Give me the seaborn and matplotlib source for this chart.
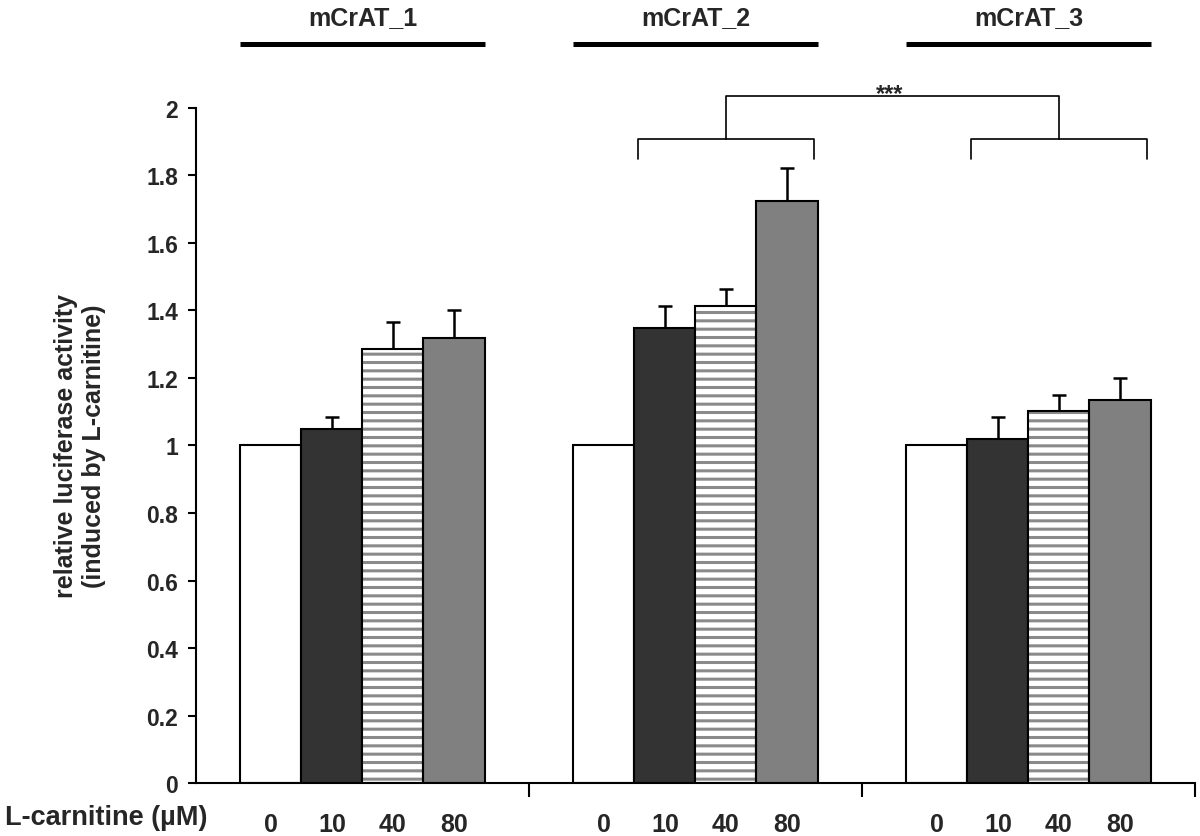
import matplotlib
matplotlib.use("Agg")
import matplotlib.pyplot as plt
from matplotlib.patches import Rectangle
import seaborn as sns
import pandas as pd

# values
constructs = ["mCrAT_1", "mCrAT_2", "mCrAT_3"]
concentrations = ["0", "10", "40", "80"]
mcrat1 = [1.00, 1.05, 1.285, 1.318]
mcrat2 = [1.00, 1.348, 1.413, 1.725]
mcrat3 = [1.00, 1.019, 1.102, 1.136]
err1 = [0.0, 0.035, 0.082, 0.083]
err2 = [0.0, 0.064, 0.052, 0.098]
err3 = [0.0, 0.065, 0.048, 0.064]
yticks = [0, 0.2, 0.4, 0.6, 0.8, 1.0, 1.2, 1.4, 1.6, 1.8, 2.0]
ytick_labels = ["0", "0.2", "0.4", "0.6", "0.8", "1", "1.2", "1.4", "1.6", "1.8", "2"]

rows = []
for name, vals, errs in zip(constructs, [mcrat1, mcrat2, mcrat3], [err1, err2, err3]):
    for c, v, e in zip(concentrations, vals, errs):
        rows.append({"construct": name, "conc": c, "activity": v, "sem": e})
df = pd.DataFrame(rows)

sns.set_style("white")
plt.rcParams["font.family"] = ["Liberation Sans", "DejaVu Sans"]
plt.rcParams["font.weight"] = "bold"
plt.rcParams["hatch.linewidth"] = 2.2

fig = plt.figure(figsize=(12, 8.37), dpi=100)
ax = fig.add_axes([0.1633, 0.0633, 0.8325, 0.8065])

palette = {"0": "white", "10": "#333333", "40": "white", "80": "#808080"}
sns.barplot(data=df, x="construct", y="activity", hue="conc", hue_order=concentrations,
            palette=palette, width=0.733, errorbar=None, legend=False,
            edgecolor="black", linewidth=1.5, saturation=1, ax=ax)
bars = list(ax.containers)  # one container per concentration

# striped bars: gray hatch, black outline drawn on top
for bar in bars[2]:
    bar.set_hatch("--")
    bar.set_edgecolor("#8a8a8a")
    bar.set_linewidth(0)
    ax.add_patch(Rectangle(bar.get_xy(), bar.get_width(), bar.get_height(),
                           fill=False, edgecolor="black", linewidth=1.5, zorder=bar.get_zorder() + 0.1))

# upward-only error bars
for k, cont in enumerate(bars):
    for j, bar in enumerate(cont):
        e = df[(df.construct == constructs[j]) & (df.conc == concentrations[k])]["sem"].iloc[0]
        if e > 0:
            xc = bar.get_x() + bar.get_width() / 2
            ax.errorbar(xc, bar.get_height(), yerr=[[0], [e]], fmt="none", ecolor="black",
                        elinewidth=1.8, capsize=5, capthick=1.8, zorder=0.5)

ax.set_xlim(-0.5, 2.5)
ax.set_ylim(0, 2)
ax.set_yticks(yticks)
ax.set_yticklabels(ytick_labels, fontsize=16.5, fontweight="bold")

# bar concentration labels as major ticks, group boundaries as minor ticks
centers, labels = [], []
for j in range(len(constructs)):
    for k in range(len(concentrations)):
        bar = bars[k][j]
        centers.append(bar.get_x() + bar.get_width() / 2)
        labels.append(concentrations[k])
ax.set_xticks(centers)
ax.set_xticklabels(labels, fontsize=18, fontweight="bold")
ax.set_xticks([0.5, 1.5, 2.5], minor=True)
ax.tick_params(axis="x", which="major", bottom=True, length=0, pad=21)
ax.tick_params(axis="x", which="minor", bottom=True, length=10, width=1.5, direction="out", color="black")
ax.tick_params(axis="y", left=True, length=6, width=1.5, direction="out", color="black", pad=7)
ax.set_xlabel("")

sns.despine(ax=ax)
for s in ["left", "bottom"]:
    ax.spines[s].set_color("black")
    ax.spines[s].set_linewidth(1.5)

ax.set_ylabel("relative luciferase activity\n(induced by L-carnitine)", fontsize=18, fontweight="bold")
ax.yaxis.set_label_coords(-0.09, 0.5)

ax.text(0.012, -0.05, "L-carnitine (\u00b5M)", transform=ax.transAxes, ha="right", va="center",
        fontsize=19.5, fontweight="bold", clip_on=False)

# construct labels with thick lines above each group
for j, name in enumerate(constructs):
    x0 = bars[0][j].get_x()
    x1 = bars[3][j].get_x() + bars[3][j].get_width()
    ax.plot([x0, x1], [2.19, 2.19], color="black", linewidth=3.6, solid_capstyle="butt", clip_on=False)
    ax.text((x0 + x1) / 2, 2.27, name, ha="center", va="center", fontsize=18,
            fontweight="bold", clip_on=False)

# significance brackets between mCrAT_2 and mCrAT_3
mids = []
for j in [1, 2]:
    x0 = bars[1][j].get_x() + 0.01
    x1 = bars[3][j].get_x() + bars[3][j].get_width() - 0.01
    ax.plot([x0, x0, x1, x1], [1.85, 1.908, 1.908, 1.85], color="black", linewidth=1.2, clip_on=False)
    mids.append((x0 + x1) / 2)
ax.plot([mids[0], mids[0], mids[1], mids[1]], [1.908, 2.036, 2.036, 1.908], color="black",
        linewidth=1.2, clip_on=False)
ax.text(sum(mids) / 2 - 0.01, 2.025, "***", ha="center", va="baseline", fontsize=17, clip_on=False)

fig.savefig("out.png", dpi=100)
